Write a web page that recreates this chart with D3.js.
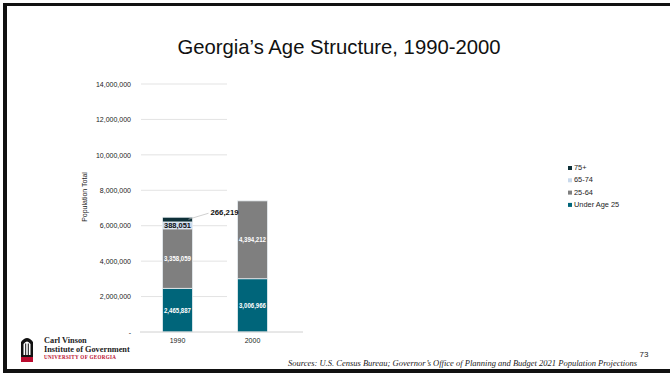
<!DOCTYPE html>
<html lang="en">
<head>
<meta charset="UTF-8">
<title>Georgia's Age Structure, 1990-2000</title>
<script src="https://d3js.org/d3.v7.min.js"></script>
<style>
  body { margin: 0; background: #fff; }
  svg { display: block; font-family: "Liberation Sans", Arial, sans-serif; }
</style>
</head>
<body>
<div id="chart"></div>
<script>
// Data
var years = ["1990", "2000"];
var groups = ["Under Age 25", "25-64", "65-74", "75+"];
var under25 = [2465887, 3006966];
var age25to64 = [3358059, 4394212];
var age65to74 = [388051, 0];
var age75plus = [266219, 0];
var yTicks = [0, 2000000, 4000000, 6000000, 8000000, 10000000, 12000000, 14000000];

var colors = {
  "Under Age 25": "#00657a",
  "25-64": "#7f7f7f",
  "65-74": "#c9d9ec",
  "75+": "#0e3038"
};

var rows = years.map(function(y, i) {
  return { year: y, "Under Age 25": under25[i], "25-64": age25to64[i], "65-74": age65to74[i], "75+": age75plus[i] };
});

var W = 670, H = 378;
var svg = d3.select("#chart").append("svg")
  .attr("width", W)
  .attr("height", H);

// slide frame
svg.append("rect").attr("x", 0).attr("y", 0).attr("width", W).attr("height", H).attr("fill", "#fff");
svg.append("rect").attr("x", 3).attr("y", 3).attr("width", W).attr("height", 3).attr("fill", "#111");
svg.append("rect").attr("x", 3).attr("y", 3).attr("width", 4).attr("height", 370).attr("fill", "#111");
svg.append("rect").attr("x", 3).attr("y", 369).attr("width", W).attr("height", 4).attr("fill", "#111");

// title
svg.append("text")
  .attr("x", 339).attr("y", 54)
  .attr("text-anchor", "middle")
  .style("font-size", "20.3px")
  .style("fill", "#111")
  .text("Georgia\u2019s Age Structure, 1990-2000");

// scales
var x = d3.scaleBand().domain(years).range([140, 290]).paddingInner(0.6).paddingOuter(0.3);
var y = d3.scaleLinear().domain([0, 14000000]).range([332, 84]);

// gridlines (short, as in the original)
svg.append("g").selectAll("line")
  .data(yTicks.filter(function(d) { return d > 0; }))
  .enter().append("line")
  .attr("x1", 141).attr("x2", 227)
  .attr("y1", function(d) { return y(d); })
  .attr("y2", function(d) { return y(d); })
  .attr("stroke", "#e3e3e3")
  .attr("stroke-width", 1);

// y axis labels
var yAxis = d3.axisLeft(y).tickValues(yTicks).tickSize(0).tickPadding(0)
  .tickFormat(function(d) { return d === 0 ? "-" : d3.format(",")(d); });
var ya = svg.append("g").attr("transform", "translate(131,0)").call(yAxis);
ya.select(".domain").remove();
ya.selectAll("text").style("font-size", "7px").style("fill", "#222").style("font-family", "'Liberation Sans', Arial, sans-serif");

// y axis title
svg.append("text")
  .attr("transform", "translate(87,197) rotate(-90)")
  .attr("text-anchor", "middle")
  .style("font-size", "7px")
  .style("fill", "#222")
  .text("Population Total");

// stacked bars
var stack = d3.stack().keys(groups)(rows);
var layer = svg.append("g").selectAll("g")
  .data(stack)
  .enter().append("g")
  .attr("fill", function(d) { return colors[d.key]; });

layer.selectAll("rect")
  .data(function(d) { return d; })
  .enter().append("rect")
  .attr("x", function(d) { return x(d.data.year); })
  .attr("y", function(d) { return y(d[1]); })
  .attr("width", x.bandwidth())
  .attr("height", function(d) { return y(d[0]) - y(d[1]); })
  .attr("stroke", "#e8eef2")
  .attr("stroke-width", 0.8);

// baseline
svg.append("line")
  .attr("x1", 140).attr("x2", 303)
  .attr("y1", y(0)).attr("y2", y(0))
  .attr("stroke", "#d0d0d0");

// x axis labels
var xAxis = d3.axisBottom(x).tickSize(0).tickPadding(6);
var xa = svg.append("g").attr("transform", "translate(0," + y(0) + ")").call(xAxis);
xa.select(".domain").remove();
xa.selectAll("text").style("font-size", "7px").style("fill", "#222").style("font-family", "'Liberation Sans', Arial, sans-serif");

// data labels inside segments
var fmt = d3.format(",");
var narrow = "'Liberation Sans Narrow', 'Arial Narrow', 'Liberation Sans', sans-serif";
stack.forEach(function(s) {
  s.forEach(function(d) {
    var v = d[1] - d[0];
    if (v <= 0 || s.key === "75+") return;
    svg.append("text")
      .attr("x", x(d.data.year) + x.bandwidth() / 2)
      .attr("y", (y(d[0]) + y(d[1])) / 2 + 2.5)
      .attr("text-anchor", "middle")
      .attr("textLength", 27)
      .attr("lengthAdjust", "spacingAndGlyphs")
      .style("font-family", narrow)
      .style("font-size", "7px")
      .style("font-weight", "bold")
      .style("fill", s.key === "65-74" ? "#111" : "#fff")
      .text(fmt(v));
  });
});

// 75+ label with leader line
var top90 = stack[3][0];
var xRight = x("1990") + x.bandwidth();
svg.append("line")
  .attr("x1", xRight - 4).attr("y1", y(top90[1]) + 2)
  .attr("x2", xRight + 16).attr("y2", y(top90[1]) - 4)
  .attr("stroke", "#bbb").attr("stroke-width", 0.7);
svg.append("text")
  .attr("x", xRight + 18).attr("y", y(top90[1]) - 2)
  .attr("textLength", 28)
  .attr("lengthAdjust", "spacingAndGlyphs")
  .style("font-family", narrow)
  .style("font-size", "7px")
  .style("font-weight", "bold")
  .style("fill", "#111")
  .text(fmt(top90[1] - top90[0]));

// legend
var legend = svg.append("g").attr("transform", "translate(568,170)");
groups.slice().reverse().forEach(function(g, i) {
  var row = legend.append("g").attr("transform", "translate(0," + (i * 12.3) + ")");
  row.append("rect").attr("x", 0).attr("y", -4).attr("width", 4).attr("height", 4).attr("fill", colors[g]);
  row.append("text").attr("x", 6).attr("y", 0)
    .style("font-size", "7.4px").style("fill", "#222").text(g);
});

// logo
var logo = svg.append("g").attr("transform", "translate(21,336)");
logo.append("path")
  .attr("d", "M0,22 L0,6 Q6,-2 12,6 L12,22 Z")
  .attr("fill", "#111");
logo.append("path")
  .attr("d", "M2.5,19 L2.5,8 Q6,3 9.5,8 L9.5,19 Z")
  .attr("fill", "#fff");
logo.append("rect").attr("x", 4.2).attr("y", 7.5).attr("width", 1).attr("height", 11.5).attr("fill", "#111");
logo.append("rect").attr("x", 6.8).attr("y", 7.5).attr("width", 1).attr("height", 11.5).attr("fill", "#111");
logo.append("rect").attr("x", 0).attr("y", 21).attr("width", 12).attr("height", 5).attr("fill", "#ba0c2f");

var serif = "'Liberation Serif', 'DejaVu Serif', serif";
svg.append("text").attr("x", 44).attr("y", 343)
  .style("font-family", serif)
  .style("font-size", "8.3px").style("font-weight", "bold").style("fill", "#222")
  .text("Carl Vinson");
svg.append("text").attr("x", 44).attr("y", 351.5)
  .style("font-family", serif)
  .style("font-size", "8.3px").style("font-weight", "bold").style("fill", "#222")
  .text("Institute of Government");
svg.append("text").attr("x", 44).attr("y", 359)
  .style("font-family", serif)
  .style("font-size", "5.1px").style("font-weight", "bold").style("fill", "#ba0c2f")
  .style("letter-spacing", "0.3px")
  .text("UNIVERSITY OF GEORGIA");

// page number and sources
svg.append("text").attr("x", 644).attr("y", 357)
  .attr("text-anchor", "middle")
  .style("font-size", "8px").style("fill", "#222")
  .text("73");
svg.append("text").attr("x", 637).attr("y", 366)
  .attr("text-anchor", "end")
  .style("font-family", serif)
  .style("font-style", "italic")
  .style("font-size", "8.5px").style("fill", "#222")
  .text("Sources: U.S. Census Bureau; Governor\u2019s Office of Planning and Budget 2021 Population Projections");
</script>
</body>
</html>
